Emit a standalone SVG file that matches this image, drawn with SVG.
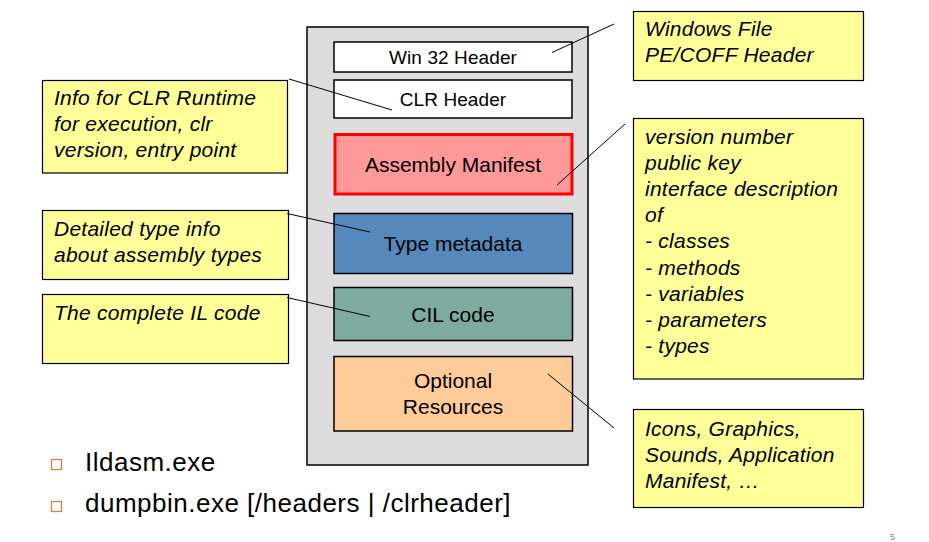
<svg xmlns="http://www.w3.org/2000/svg" width="929" height="542" viewBox="0 0 929 542">
<style>
.box{stroke:#000;stroke-width:1.5}
.lbl{font-family:"Liberation Sans",Arial,sans-serif;font-size:21px;fill:#000;text-anchor:middle}
.hdr{font-size:19px;letter-spacing:0.1px}
.note{fill:#ffff99;stroke:#000;stroke-width:1.2}
.nt{font-family:"Liberation Sans",Arial,sans-serif;font-size:21px;font-style:italic;fill:#000;letter-spacing:0.25px}
.bul{fill:#fff;stroke:#dd7a4a;stroke-width:1.3}
.bt{font-family:"Liberation Sans",Arial,sans-serif;font-size:26px;fill:#000;letter-spacing:0.5px}
.conn line{stroke:#000;stroke-width:1}
</style>
<rect width="929" height="542" fill="#fff"/>
<g id="assembly">
<rect x="307" y="27" width="281" height="438" fill="#dddddd" class="box" stroke-width="1.2"/>
</g>
<g id="win32">
<rect x="334" y="42" width="238" height="30" fill="#fff" class="box" stroke-width="1.2"/>
<text x="453" y="64" class="lbl hdr">Win 32 Header</text>
</g>
<g id="clrheader">
<rect x="334" y="80" width="238" height="38" fill="#fff" class="box" stroke-width="1.2"/>
<text x="453" y="106" class="lbl hdr">CLR Header</text>
</g>
<g id="manifest">
<rect x="335" y="134.5" width="237" height="59.5" fill="#ff9999" stroke="#ff0000" stroke-width="3"/>
<text x="453" y="172" class="lbl">Assembly Manifest</text>
</g>
<g id="typemeta">
<rect x="334" y="213.5" width="238.5" height="60" fill="#5588bb" class="box" stroke-width="1.2"/>
<text x="453" y="251" class="lbl">Type metadata</text>
</g>
<g id="cil">
<rect x="334" y="287.5" width="238.5" height="53" fill="#7faa9e" class="box" stroke-width="1.2"/>
<text x="453" y="322" class="lbl">CIL code</text>
</g>
<g id="resources">
<rect x="334" y="356.5" width="238.5" height="74.5" fill="#ffcc99" class="box" stroke-width="1.2"/>
<text x="453" y="388" class="lbl">Optional</text>
<text x="453" y="413.5" class="lbl">Resources</text>
</g>
<g id="note-clr">
<rect x="42.5" y="80.5" width="245" height="92.5" class="note"/>
<text class="nt"><tspan x="54" y="105">Info for CLR Runtime</tspan><tspan x="54" y="131">for execution, clr</tspan><tspan x="54" y="157">version, entry point</tspan></text>
</g>
<g id="note-type">
<rect x="42.5" y="210.5" width="246" height="69" class="note"/>
<text class="nt"><tspan x="54" y="236">Detailed type info</tspan><tspan x="54" y="262">about assembly types</tspan></text>
</g>
<g id="note-il">
<rect x="42.5" y="294.5" width="246" height="69" class="note"/>
<text class="nt"><tspan x="54" y="320">The complete IL code</tspan></text>
</g>
<g id="note-pe">
<rect x="633.5" y="11.5" width="230" height="69" class="note"/>
<text class="nt"><tspan x="645" y="35.5">Windows File</tspan><tspan x="645" y="62">PE/COFF Header</tspan></text>
</g>
<g id="note-manifest">
<rect x="633.5" y="118.5" width="230" height="260.5" class="note"/>
<text class="nt"><tspan x="645" y="144">version number</tspan><tspan x="645" y="170.1">public key</tspan><tspan x="645" y="196.2">interface description</tspan><tspan x="645" y="222.3">of</tspan><tspan x="645" y="248.4">- classes</tspan><tspan x="645" y="274.5">- methods</tspan><tspan x="645" y="300.6">- variables</tspan><tspan x="645" y="326.7">- parameters</tspan><tspan x="645" y="352.8">- types</tspan></text>
</g>
<g id="note-res">
<rect x="633.5" y="409.5" width="230" height="98" class="note"/>
<text class="nt"><tspan x="645" y="435.5">Icons, Graphics,</tspan><tspan x="645" y="462">Sounds, Application</tspan><tspan x="645" y="488">Manifest, …</tspan></text>
</g>
<g class="conn" id="connectors">
<line x1="552" y1="52.5" x2="614" y2="24"/>
<line x1="289" y1="79" x2="392" y2="110"/>
<line x1="557" y1="185" x2="625" y2="124"/>
<line x1="287" y1="213.5" x2="370" y2="232"/>
<line x1="287" y1="297.5" x2="370" y2="316.5"/>
<line x1="548" y1="374" x2="614" y2="428"/>
</g>
<g id="bullets">
<rect x="51.5" y="459.5" width="10" height="10" class="bul"/>
<text x="85" y="471" class="bt">Ildasm.exe</text>
<rect x="51.5" y="501.5" width="10" height="10" class="bul"/>
<text x="85" y="512" class="bt">dumpbin.exe [/headers | /clrheader]</text>
</g>
<text x="890" y="540" font-family="Liberation Sans,Arial,sans-serif" font-size="9" fill="#888">5</text>
</svg>
